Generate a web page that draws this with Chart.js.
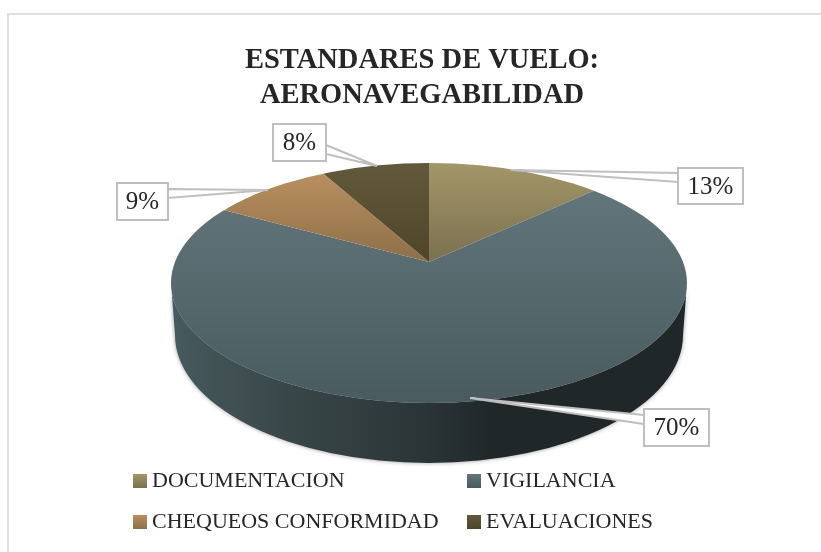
<!DOCTYPE html>
<html>
<head>
<meta charset="utf-8">
<title>Estandares de vuelo</title>
<script src="https://cdn.jsdelivr.net/npm/chart.js@4"></script>
<style>
html, body { margin: 0; padding: 0; background: #fff; }
#wrap { position: absolute; left: 0; top: 0; width: 821px; height: 552px; }
</style>
</head>
<body>
<div id="wrap"><canvas id="chart" width="821" height="552"></canvas></div>
<script>
var categories = ['DOCUMENTACION', 'VIGILANCIA', 'CHEQUEOS CONFORMIDAD', 'EVALUACIONES'];
var seriesValues = [13, 70, 9, 8];
var titleLines = ['ESTANDARES DE VUELO:', 'AERONAVEGABILIDAD'];
var baseColors = ['#a39668', '#61757a', '#b98f5f', '#62583c'];
var darkColors = ['#7b7050', '#495b5f', '#8e6f48', '#4f4629'];

var serif = '"Liberation Serif", serif';

// the slices all start from this point, the rim ellipse is not centred on it
var apex = { x: 429, y: 262, ky: 0.46 };
var rim = { x: 429, y: 283, rx: 258, ry: 120 };
var base = { x: 429, y: 335, rx: 254, ry: 128 };

// callouts: box, then tip and the two points where the leader meets the box
var callouts = [
    { box: [678, 168, 65, 36], tip: [511, 170], a: [678, 173], b: [678, 182] },
    { box: [644, 409, 65, 37], tip: [470, 398], a: [644, 415], b: [644, 424] },
    { box: [117, 183, 51, 37], tip: [268, 190], a: [168, 189], b: [168, 198] },
    { box: [273, 124, 53, 37], tip: [377, 166], a: [326, 145], b: [326, 154] }
];
var legendSpots = [[133, 474], [467, 474], [133, 515], [467, 515]];

function drawFrame(ctx) {
    ctx.save();
    ctx.fillStyle = '#e0e0e0';
    ctx.fillRect(7, 13, 814, 2);
    ctx.fillRect(7, 13, 2, 539);
    ctx.restore();
}

function drawWall(ctx) {
    var g = ctx.createLinearGradient(rim.x - rim.rx, 0, rim.x + rim.rx, 0);
    g.addColorStop(0, '#475a5e');
    g.addColorStop(0.22, '#394749');
    g.addColorStop(0.5, '#2a3436');
    g.addColorStop(0.62, '#1f2729');
    g.addColorStop(1, '#1f2729');
    ctx.save();
    ctx.shadowColor = 'rgba(0,0,0,0.4)';
    ctx.shadowBlur = 4;
    ctx.fillStyle = g;
    ctx.beginPath();
    ctx.ellipse(rim.x, rim.y, rim.rx, rim.ry, 0, 0, Math.PI);
    ctx.ellipse(base.x, base.y, base.rx, base.ry, 0, Math.PI, 0, true);
    ctx.closePath();
    ctx.fill();
    ctx.restore();
}

function drawTop(chart, ctx) {
    var arcs = chart.getDatasetMeta(0).data;
    var scale = 420 / arcs[0].outerRadius;
    var sy = scale * apex.ky;
    var ox = arcs[0].x, oy = arcs[0].y;
    ctx.save();
    ctx.beginPath();
    ctx.ellipse(rim.x, rim.y, rim.rx, rim.ry, 0, 0, Math.PI * 2);
    ctx.clip();
    ctx.translate(apex.x, apex.y);
    ctx.scale(scale, sy);
    ctx.translate(-ox, -oy);
    var tops = [163, 190, 173, 163];
    var bottoms = [262, 403, 262, 262];
    arcs.forEach(function(arc, i) {
        // screen y of the shading stops, put back into the scaled space
        var g = ctx.createLinearGradient(0, oy + (tops[i] - apex.y) / sy, 0, oy + (bottoms[i] - apex.y) / sy);
        g.addColorStop(0, baseColors[i]);
        g.addColorStop(1, darkColors[i]);
        var saved = arc.options;
        arc.options = Object.assign({}, saved, { backgroundColor: g });
        arc.draw(ctx);
        arc.options = saved;
    });
    ctx.restore();
}

function drawCallouts(chart, ctx) {
    ctx.save();
    ctx.font = '25px ' + serif;
    ctx.textAlign = 'center';
    ctx.textBaseline = 'middle';
    callouts.forEach(function(c, i) {
        ctx.strokeStyle = '#bfbfbf';
        ctx.lineWidth = 2;
        ctx.fillStyle = '#fff';
        ctx.beginPath();
        ctx.moveTo(c.a[0], c.a[1]);
        ctx.lineTo(c.tip[0], c.tip[1]);
        ctx.lineTo(c.b[0], c.b[1]);
        ctx.closePath();
        ctx.fill();
        ctx.stroke();
        ctx.fillRect(c.box[0], c.box[1], c.box[2], c.box[3]);
        ctx.strokeRect(c.box[0], c.box[1], c.box[2], c.box[3]);
        ctx.fillStyle = '#262626';
        ctx.fillText(seriesValues[i] + '%', c.box[0] + c.box[2] / 2, c.box[1] + c.box[3] / 2 + 1);
    });
    ctx.restore();
}

function drawLegend(chart, ctx) {
    ctx.save();
    ctx.font = '22px ' + serif;
    ctx.textAlign = 'left';
    ctx.textBaseline = 'middle';
    categories.forEach(function(name, i) {
        var p = legendSpots[i];
        var g = ctx.createLinearGradient(0, p[1], 0, p[1] + 14);
        g.addColorStop(0, baseColors[i]);
        g.addColorStop(1, darkColors[i]);
        ctx.fillStyle = g;
        ctx.fillRect(p[0], p[1], 14, 14);
        ctx.fillStyle = '#262626';
        ctx.fillText(name, p[0] + 19, p[1] + 7);
    });
    ctx.restore();
}

var pie3d = {
    id: 'pie3d',
    beforeDraw: function(chart) {
        drawFrame(chart.ctx);
    },
    beforeDatasetsDraw: function(chart) {
        drawWall(chart.ctx);
        drawTop(chart, chart.ctx);
        drawCallouts(chart, chart.ctx);
        drawLegend(chart, chart.ctx);
        return false;
    }
};

new Chart(document.getElementById('chart').getContext('2d'), {
    type: 'pie',
    data: {
        labels: categories,
        datasets: [{
            data: seriesValues,
            backgroundColor: baseColors,
            borderWidth: 0
        }]
    },
    options: {
        responsive: false,
        animation: false,
        layout: { padding: { top: 44, right: 2, left: 25 } },
        plugins: {
            legend: { display: false },
            tooltip: { enabled: false },
            title: {
                display: true,
                text: titleLines,
                color: '#262626',
                font: { family: serif, size: 28.5, weight: 'bold', lineHeight: 1.2 },
                padding: { top: 0, bottom: 8 }
            }
        }
    },
    plugins: [pie3d]
});
</script>
</body>
</html>
